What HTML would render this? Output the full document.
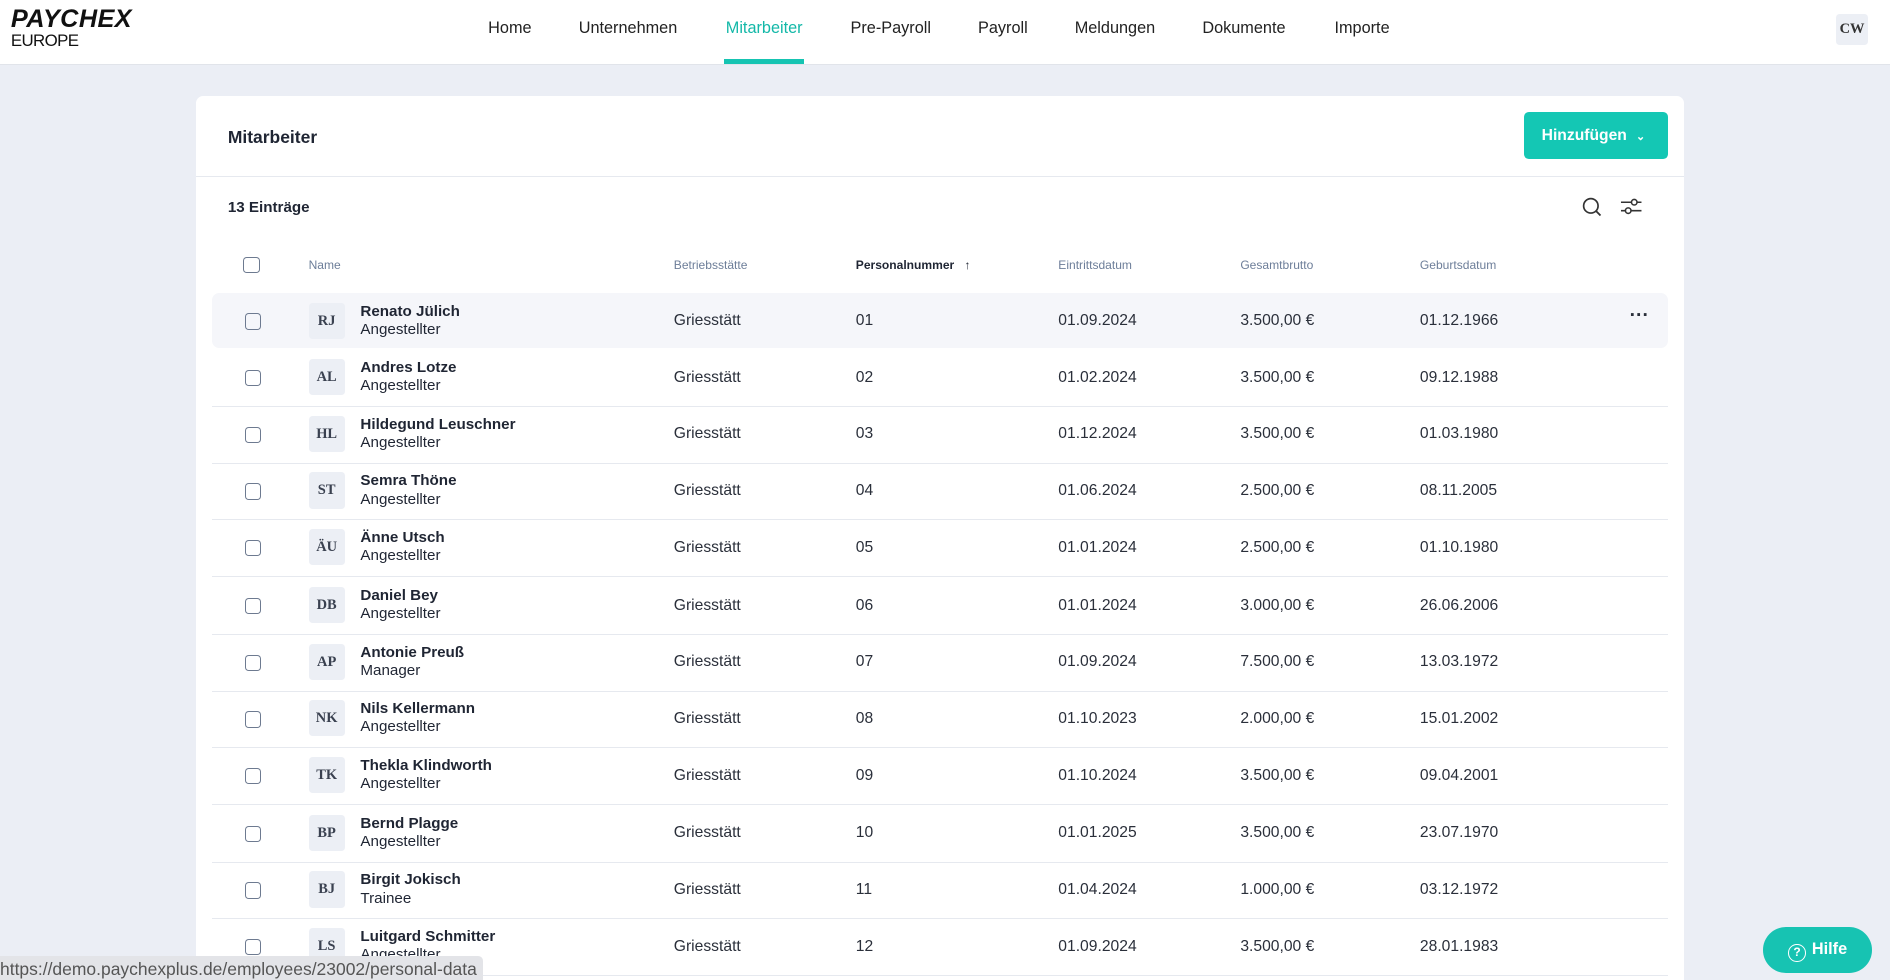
<!DOCTYPE html>
<html><head><meta charset="utf-8"><style>
html,body{margin:0;padding:0;overflow:hidden}
body{width:1568px;height:813px;zoom:1.20536;background:#ebeef5;font-family:"Liberation Sans",Arial,sans-serif;color:#1f2533;position:relative}
.a{position:absolute}
.hdr{left:0;top:0;width:1568px;height:53px;background:#fff;border-bottom:1px solid #e1e4ea}
.nav{top:16px;font-size:13.5px;font-weight:500;color:#222;transform:translateX(-50%);white-space:nowrap}
.card{left:163px;top:80px;width:1234px;height:760px;background:#fff;border-radius:6px}
.cb{width:12px;height:12px;border:1.3px solid #6d7a90;border-radius:3px}
.th{top:214px;font-size:10px;color:#6d7e99}
.row{left:176px;width:1208px;height:47px;border-bottom:1px solid #e6e9ef}
.row span{position:absolute;font-size:13px;top:16px;color:#2a2f3a}
.av{position:absolute;left:80px;top:8px;width:30px;height:30px;background:#eceff5;border-radius:3px;font-family:"Liberation Serif",serif;font-weight:bold;font-size:12px;color:#3a4150;text-align:center;line-height:30px}
.nm{position:absolute;left:123px;top:8px;font-size:12.6px;line-height:15px}
.nm b{display:block;color:#1f2533}
</style></head><body>
<div class="a hdr"></div>
<div class="a" style="left:9px;top:4px;font-size:21px;font-weight:900;font-style:italic;letter-spacing:0.3px;color:#111">PAYCHEX</div>
<div class="a" style="left:9px;top:26px;font-size:14px;color:#111;letter-spacing:-0.5px">EUROPE</div>
<div class="a nav" style="left:423px">Home</div>
<div class="a nav" style="left:521px">Unternehmen</div>
<div class="a nav" style="left:634px;color:#13b8a8">Mitarbeiter</div>
<div class="a" style="left:601px;top:49px;width:66px;height:4px;background:#16c4b2"></div>
<div class="a nav" style="left:739px">Pre-Payroll</div>
<div class="a nav" style="left:832px">Payroll</div>
<div class="a nav" style="left:925px">Meldungen</div>
<div class="a nav" style="left:1032px">Dokumente</div>
<div class="a nav" style="left:1130px">Importe</div>
<div class="a" style="left:1523px;top:12px;width:27px;height:25px;background:#eceff5;border-radius:3px;font-family:'Liberation Serif',serif;font-weight:bold;font-size:12px;line-height:25px;text-align:center;color:#333">CW</div>

<div class="a card"></div>
<div class="a" style="left:189px;top:105px;font-size:14.5px;font-weight:bold">Mitarbeiter</div>
<div class="a" style="left:1264px;top:93px;width:120px;height:39px;background:#14c7b4;border-radius:4px;color:#fff;font-size:13px;font-weight:bold;line-height:39px;text-indent:15px">Hinzufügen <span style="font-size:9px;margin-left:4px">&#8964;</span></div>
<div class="a" style="left:163px;top:146px;width:1234px;height:1px;background:#e6e9ef"></div>
<div class="a" style="left:189px;top:165px;font-size:12.6px;font-weight:bold">13 Einträge</div>
<svg class="a" style="left:1311px;top:162px" width="60" height="20"><circle cx="9" cy="9" r="6" fill="none" stroke="#333" stroke-width="1.4"/><line x1="13.5" y1="13.5" x2="17" y2="17" stroke="#333" stroke-width="1.5"/><g stroke="#333" stroke-width="1.3" fill="none"><line x1="34" y1="6" x2="51" y2="6"/><line x1="34" y1="13" x2="51" y2="13"/><circle cx="45" cy="6" r="2.3" fill="#fff"/><circle cx="40" cy="13" r="2.3" fill="#fff"/></g></svg>

<div class="a cb" style="left:202px;top:213px"></div>
<div class="a th" style="left:256px">Name</div>
<div class="a th" style="left:559px">Betriebsstätte</div>
<div class="a th" style="left:710px;color:#1f2533;font-weight:bold">Personalnummer &nbsp;&nbsp;↑</div>
<div class="a th" style="left:878px">Eintrittsdatum</div>
<div class="a th" style="left:1029px">Gesamtbrutto</div>
<div class="a th" style="left:1178px">Geburtsdatum</div>

<div class="a" style="left:176px;top:243px;width:1208px;height:46px;background:#f5f6fa;border-radius:6px"></div>
<div class="a row" style="top:243px;border-bottom:none"><div class="a cb" style="left:27px;top:17px"></div><div class="av">RJ</div><div class="nm"><b>Renato Jülich</b>Angestellter</div><span style="left:383px">Griesstätt</span><span style="left:534px">01</span><span style="left:702px">01.09.2024</span><span style="left:853px">3.500,00 €</span><span style="left:1002px">01.12.1966</span><span style="left:1176px;top:10px;font-weight:bold;font-size:16px">···</span></div>
<div class="a row" style="top:290px"><div class="a cb" style="left:27px;top:17px"></div><div class="av">AL</div><div class="nm"><b>Andres Lotze</b>Angestellter</div><span style="left:383px">Griesstätt</span><span style="left:534px">02</span><span style="left:702px">01.02.2024</span><span style="left:853px">3.500,00 €</span><span style="left:1002px">09.12.1988</span></div>
<div class="a row" style="top:337px"><div class="a cb" style="left:27px;top:17px"></div><div class="av">HL</div><div class="nm"><b>Hildegund Leuschner</b>Angestellter</div><span style="left:383px">Griesstätt</span><span style="left:534px">03</span><span style="left:702px">01.12.2024</span><span style="left:853px">3.500,00 €</span><span style="left:1002px">01.03.1980</span></div>
<div class="a row" style="top:384px"><div class="a cb" style="left:27px;top:17px"></div><div class="av">ST</div><div class="nm"><b>Semra Thöne</b>Angestellter</div><span style="left:383px">Griesstätt</span><span style="left:534px">04</span><span style="left:702px">01.06.2024</span><span style="left:853px">2.500,00 €</span><span style="left:1002px">08.11.2005</span></div>
<div class="a row" style="top:431px"><div class="a cb" style="left:27px;top:17px"></div><div class="av">ÄU</div><div class="nm"><b>Änne Utsch</b>Angestellter</div><span style="left:383px">Griesstätt</span><span style="left:534px">05</span><span style="left:702px">01.01.2024</span><span style="left:853px">2.500,00 €</span><span style="left:1002px">01.10.1980</span></div>
<div class="a row" style="top:479px"><div class="a cb" style="left:27px;top:17px"></div><div class="av">DB</div><div class="nm"><b>Daniel Bey</b>Angestellter</div><span style="left:383px">Griesstätt</span><span style="left:534px">06</span><span style="left:702px">01.01.2024</span><span style="left:853px">3.000,00 €</span><span style="left:1002px">26.06.2006</span></div>
<div class="a row" style="top:526px"><div class="a cb" style="left:27px;top:17px"></div><div class="av">AP</div><div class="nm"><b>Antonie Preuß</b>Manager</div><span style="left:383px">Griesstätt</span><span style="left:534px">07</span><span style="left:702px">01.09.2024</span><span style="left:853px">7.500,00 €</span><span style="left:1002px">13.03.1972</span></div>
<div class="a row" style="top:573px"><div class="a cb" style="left:27px;top:17px"></div><div class="av">NK</div><div class="nm"><b>Nils Kellermann</b>Angestellter</div><span style="left:383px">Griesstätt</span><span style="left:534px">08</span><span style="left:702px">01.10.2023</span><span style="left:853px">2.000,00 €</span><span style="left:1002px">15.01.2002</span></div>
<div class="a row" style="top:620px"><div class="a cb" style="left:27px;top:17px"></div><div class="av">TK</div><div class="nm"><b>Thekla Klindworth</b>Angestellter</div><span style="left:383px">Griesstätt</span><span style="left:534px">09</span><span style="left:702px">01.10.2024</span><span style="left:853px">3.500,00 €</span><span style="left:1002px">09.04.2001</span></div>
<div class="a row" style="top:668px"><div class="a cb" style="left:27px;top:17px"></div><div class="av">BP</div><div class="nm"><b>Bernd Plagge</b>Angestellter</div><span style="left:383px">Griesstätt</span><span style="left:534px">10</span><span style="left:702px">01.01.2025</span><span style="left:853px">3.500,00 €</span><span style="left:1002px">23.07.1970</span></div>
<div class="a row" style="top:715px"><div class="a cb" style="left:27px;top:17px"></div><div class="av">BJ</div><div class="nm"><b>Birgit Jokisch</b>Trainee</div><span style="left:383px">Griesstätt</span><span style="left:534px">11</span><span style="left:702px">01.04.2024</span><span style="left:853px">1.000,00 €</span><span style="left:1002px">03.12.1972</span></div>
<div class="a row" style="top:762px"><div class="a cb" style="left:27px;top:17px"></div><div class="av">LS</div><div class="nm"><b>Luitgard Schmitter</b>Angestellter</div><span style="left:383px">Griesstätt</span><span style="left:534px">12</span><span style="left:702px">01.09.2024</span><span style="left:853px">3.500,00 €</span><span style="left:1002px">28.01.1983</span></div>

<div class="a" style="left:0;top:793px;width:401px;height:20px;background:#e3e4e8;border-top-right-radius:4px;font-size:14.5px;color:#555;line-height:22px;white-space:nowrap;overflow:hidden">https://demo.paychexplus.de/employees/23002/personal-data</div>
<div class="a" style="left:1463px;top:769px;width:90px;height:38px;background:#17c3b2;border-radius:19px;color:#fff;font-weight:bold;font-size:13.5px;line-height:38px;text-align:center"><span style="display:inline-block;width:13px;height:13px;border:1.5px solid #fff;border-radius:50%;font-size:10px;line-height:13px;vertical-align:-2px;margin-right:5px">?</span>Hilfe</div>
</body></html>
